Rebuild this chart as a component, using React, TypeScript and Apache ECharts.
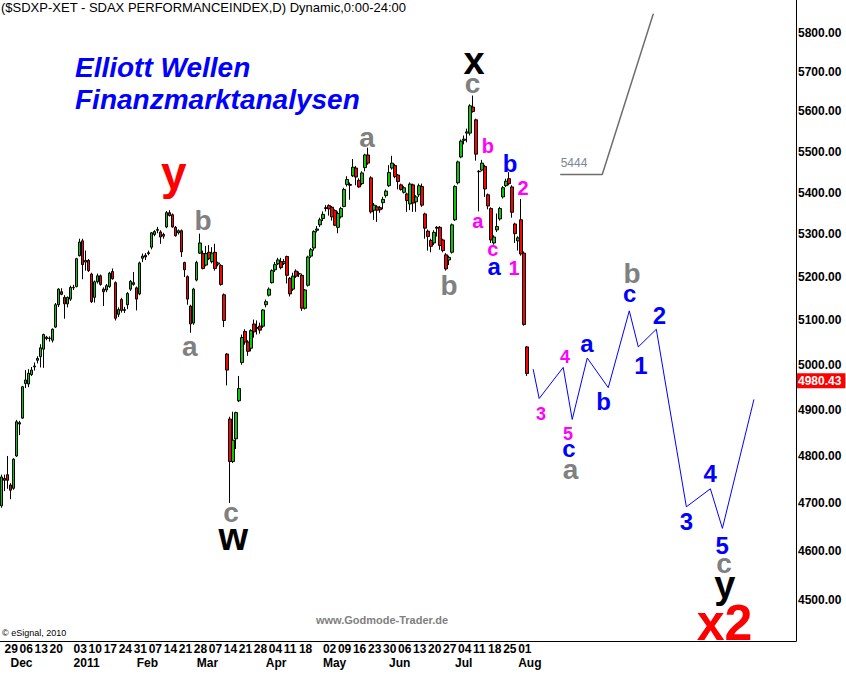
import { useEffect, useRef } from 'react';
import * as echarts from 'echarts';

const FONT = "'Liberation Sans', Arial, Helvetica, sans-serif";

const TITLE = '($SDXP-XET - SDAX PERFORMANCEINDEX,D) Dynamic,0:00-24:00';
const HEADLINE_1 = 'Elliott Wellen';
const HEADLINE_2 = 'Finanzmarktanalysen';
const WATERMARK = 'www.Godmode-Trader.de';
const COPYRIGHT = '\u00A9 eSignal, 2010';

// trading calendar
const START_DATE = '2010-11-26';
const HOLIDAYS = ['2010-12-24', '2010-12-31', '2011-04-22', '2011-04-25'];
const SLOT_COUNT = 265; // trading days incl. projected future
const MONTH_NAMES = ['Jan', 'Feb', 'Mar', 'Apr', 'May', 'Jun', 'Jul', 'Aug', 'Sep', 'Oct', 'Nov', 'Dec'];

// daily candles [open, high, low, close]
const OHLC = [
  [4694, 4760, 4690, 4755], [4752, 4760, 4725, 4748], [4760, 4800, 4730, 4748], [4738, 4742, 4708, 4727],
  [4731, 4795, 4728, 4793], [4800, 4878, 4798, 4874], [4872, 4876, 4845, 4869], [4882, 4953, 4880, 4951],
  [4958, 4988, 4948, 4966], [4957, 4990, 4950, 4981], [4978, 4995, 4975, 4988], [4995, 5005, 4987, 4997],
  [5010, 5019, 5003, 5014], [5018, 5046, 4994, 5038], [5035, 5070, 4993, 5068], [5062, 5065, 5055, 5059],
  [5059, 5064, 5052, 5060], [5055, 5082, 5050, 5080], [5085, 5140, 5083, 5136], [5136, 5174, 5131, 5172],
  [5166, 5174, 5158, 5160], [5153, 5158, 5104, 5138], [5138, 5155, 5130, 5153], [5149, 5180, 5145, 5176],
  [5176, 5182, 5170, 5175], [5178, 5245, 5176, 5243], [5250, 5290, 5248, 5282], [5285, 5290, 5195, 5229],
  [5235, 5262, 5215, 5239], [5239, 5242, 5212, 5215], [5207, 5210, 5140, 5143], [5153, 5192, 5141, 5189],
  [5189, 5208, 5185, 5203], [5203, 5206, 5180, 5183], [5172, 5176, 5133, 5166], [5170, 5184, 5165, 5180],
  [5178, 5212, 5175, 5209], [5213, 5220, 5194, 5196], [5187, 5190, 5100, 5105], [5114, 5130, 5108, 5125],
  [5148, 5152, 5118, 5123], [5123, 5131, 5117, 5125], [5136, 5165, 5126, 5162], [5172, 5193, 5168, 5190],
  [5187, 5212, 5180, 5183], [5175, 5178, 5123, 5149], [5161, 5236, 5158, 5233], [5244, 5255, 5235, 5249],
  [5251, 5256, 5240, 5247], [5255, 5262, 5251, 5257], [5270, 5306, 5265, 5304], [5300, 5310, 5296, 5307],
  [5310, 5318, 5303, 5312], [5306, 5310, 5278, 5294], [5296, 5304, 5290, 5300], [5318, 5356, 5315, 5352],
  [5352, 5358, 5343, 5345], [5347, 5350, 5316, 5318], [5317, 5320, 5295, 5297], [5304, 5312, 5300, 5309],
  [5309, 5312, 5247, 5259], [5234, 5236, 5200, 5217], [5201, 5204, 5136, 5149], [5133, 5136, 5072, 5092],
  [5094, 5175, 5090, 5172], [5193, 5238, 5190, 5234], [5256, 5302, 5254, 5280], [5255, 5262, 5218, 5220],
  [5228, 5273, 5225, 5255], [5258, 5275, 5240, 5243], [5236, 5270, 5232, 5256], [5258, 5278, 5215, 5220],
  [5230, 5236, 5225, 5233], [5227, 5230, 5180, 5183], [5159, 5162, 5085, 5100], [5024, 5026, 4954, 4988],
  [4880, 4885, 4700, 4788], [4788, 4896, 4785, 4834], [4837, 4896, 4815, 4894], [4920, 4975, 4917, 4947],
  [5005, 5068, 5000, 5061], [5075, 5080, 5045, 5051], [5051, 5055, 5020, 5030], [5037, 5080, 5030, 5077],
  [5092, 5102, 5061, 5074], [5082, 5100, 5068, 5084], [5087, 5095, 5070, 5078], [5087, 5126, 5083, 5124],
  [5136, 5148, 5130, 5143], [5158, 5176, 5155, 5172], [5187, 5218, 5185, 5215], [5217, 5235, 5212, 5229],
  [5231, 5245, 5228, 5240], [5236, 5245, 5218, 5222], [5232, 5242, 5228, 5236], [5248, 5250, 5185, 5204],
  [5197, 5200, 5155, 5161], [5172, 5210, 5168, 5202], [5214, 5218, 5198, 5202], [5207, 5213, 5200, 5208],
  [5204, 5208, 5122, 5128], [5128, 5172, 5125, 5170], [5181, 5250, 5178, 5247], [5249, 5268, 5245, 5264],
  [5268, 5310, 5262, 5307], [5310, 5320, 5305, 5313], [5323, 5340, 5318, 5335], [5338, 5355, 5332, 5348],
  [5362, 5370, 5355, 5364], [5369, 5372, 5345, 5361], [5365, 5368, 5333, 5342], [5357, 5360, 5320, 5322],
  [5317, 5355, 5303, 5350], [5342, 5366, 5338, 5362], [5367, 5412, 5365, 5408], [5420, 5440, 5415, 5432],
  [5420, 5425, 5383, 5418], [5441, 5482, 5438, 5462], [5460, 5465, 5418, 5438], [5430, 5435, 5412, 5414],
  [5422, 5452, 5418, 5448], [5461, 5495, 5452, 5492], [5492, 5510, 5468, 5472], [5436, 5440, 5350, 5354],
  [5358, 5375, 5335, 5370], [5366, 5370, 5330, 5358], [5364, 5368, 5352, 5359], [5376, 5390, 5360, 5384],
  [5393, 5408, 5388, 5404], [5417, 5467, 5414, 5449], [5460, 5490, 5456, 5472], [5466, 5470, 5435, 5439],
  [5443, 5445, 5408, 5427], [5419, 5422, 5405, 5408], [5401, 5416, 5398, 5412], [5397, 5400, 5354, 5381],
  [5373, 5425, 5358, 5421], [5419, 5422, 5354, 5375], [5378, 5394, 5354, 5390], [5395, 5422, 5390, 5417],
  [5415, 5422, 5366, 5370], [5349, 5352, 5290, 5315], [5308, 5312, 5262, 5295], [5286, 5290, 5258, 5272],
  [5280, 5310, 5275, 5305], [5315, 5320, 5295, 5317], [5317, 5320, 5264, 5274], [5287, 5290, 5258, 5262],
  [5252, 5256, 5215, 5219], [5240, 5250, 5228, 5246], [5258, 5326, 5255, 5323], [5335, 5418, 5332, 5415],
  [5424, 5478, 5420, 5475], [5487, 5530, 5484, 5526], [5528, 5540, 5518, 5531], [5546, 5557, 5523, 5549],
  [5546, 5618, 5540, 5614], [5611, 5640, 5597, 5600], [5579, 5582, 5478, 5494], [5452, 5455, 5355, 5451],
  [5455, 5480, 5452, 5472], [5464, 5468, 5390, 5409], [5395, 5398, 5360, 5368], [5362, 5365, 5280, 5287],
  [5280, 5298, 5276, 5294], [5311, 5350, 5306, 5319], [5337, 5366, 5333, 5362], [5390, 5416, 5386, 5412],
  [5417, 5434, 5414, 5428], [5434, 5450, 5418, 5422], [5414, 5418, 5340, 5353], [5325, 5328, 5280, 5302],
  [5285, 5296, 5262, 5292], [5335, 5385, 5250, 5254], [5256, 5260, 5088, 5091], [5040, 5042, 4975, 4980.43],
];

// price axis (logarithmic)
const PRICE_TICKS = [4500, 4600, 4700, 4800, 4900, 5000, 5100, 5200, 5300, 5400, 5500, 5600, 5700, 5800];
const PRICE_MIN = 4418.6;
const PRICE_MAX = 5886.3;
const LAST_PRICE = 4980.43;

// projected paths: [trading-day slot, price]
const BLUE_PATH = [
  [177, 4990], [179, 4925], [187, 4994], [190, 4879], [195, 5015], [202, 4949], [209, 5122],
  [212, 5040], [218, 5080], [228, 4692], [236, 4730], [240, 4647], [250.5, 4923],
];
const GRAY_PATH = [[186, 5444], [200, 5444], [217, 5850]];

// wave labels: [text, trading-day slot, price, kind]
const WAVES = [
  ['y', 57.4, 5448, 'redL'], ['b', 67.1, 5334, 'gray'], ['a', 62.7, 5041, 'gray'],
  ['c', 76.4, 4680, 'gray'], ['w', 77.2, 4629, 'black'], ['a', 121.7, 5536, 'gray'],
  ['x', 157.3, 5729, 'black'], ['c', 156.8, 5671, 'gray'], ['b', 161.9, 5513, 'magenta'],
  ['b', 169.3, 5471, 'blue'], ['2', 173.6, 5411, 'magenta'], ['a', 158.6, 5331, 'magenta'],
  ['c', 163.6, 5265, 'magenta'], ['a', 164.0, 5224, 'blue'], ['1', 170.6, 5221, 'magenta'],
  ['b', 149.0, 5181, 'gray'], ['b', 209.9, 5209, 'gray'], ['c', 209.1, 5162, 'blue'],
  ['2', 219.0, 5112, 'blue'], ['a', 194.9, 5048, 'blue'], ['4', 187.6, 5017, 'magentaS'],
  ['1', 212.9, 4998, 'blue'], ['b', 200.4, 4918, 'blue'], ['3', 179.6, 4891, 'magentaS'],
  ['5', 188.6, 4847, 'magentaS'], ['c', 188.9, 4816, 'blue'], ['a', 189.4, 4771, 'gray'],
  ['3', 228.0, 4661, 'blue'], ['4', 235.9, 4762, 'blue'], ['5', 239.9, 4611, 'blue'],
  ['c', 240.5, 4575, 'gray'], ['y', 240.8, 4531, 'black'], ['x2', 240.7, 4455, 'redXL'],
  ['5444', 190.6, 5473, 'note'],
];

const KIND_STYLE = {
  redL: { color: '#ff0000', size: 46, weight: 'bold' },
  redXL: { color: '#ff0000', size: 50, weight: 'bold' },
  black: { color: '#000000', size: 38, weight: 'bold' },
  gray: { color: '#808080', size: 28, weight: 'bold' },
  blue: { color: '#0000ff', size: 24, weight: 'bold' },
  magenta: { color: '#ff00ff', size: 20, weight: 'bold' },
  magentaS: { color: '#ff00ff', size: 18, weight: 'bold' },
  note: { color: '#7a8796', size: 12, weight: 'normal' },
};

function tradingDays(start: string, count: number, holidays: string[]): string[] {
  const out: string[] = [];
  const d = new Date(start + 'T12:00:00Z');
  while (out.length < count) {
    const dow = d.getUTCDay();
    const s = d.toISOString().slice(0, 10);
    if (dow !== 0 && dow !== 6 && holidays.indexOf(s) < 0) out.push(s);
    d.setUTCDate(d.getUTCDate() + 1);
  }
  return out;
}

function buildOption() {
  const L = (p: number) => Math.log(p);
  const dates = tradingDays(START_DATE, SLOT_COUNT, HOLIDAYS);
  const n = OHLC.length;

  const dayIdx = new Set<number>();
  let last = -100;
  for (let i = 1; i < n; i++) {
    const prev = new Date(dates[i - 1] + 'T12:00:00Z');
    const cur = new Date(dates[i] + 'T12:00:00Z');
    const newWeek = cur.getUTCDay() < prev.getUTCDay() || cur.getTime() - prev.getTime() > 6 * 864e5;
    if (newWeek && i - last >= 5) {
      dayIdx.add(i);
      last = i;
    }
  }
  const monthIdx = new Set<number>();
  for (let i = 1; i < n; i++) {
    if (dates[i].slice(5, 7) !== dates[i - 1].slice(5, 7)) monthIdx.add(i);
  }

  const axisFont = { color: '#000', fontWeight: 'bold', fontSize: 12, fontFamily: FONT };

  return {
    animation: false,
    backgroundColor: '#ffffff',
    textStyle: { fontFamily: FONT },
    grid: { left: 0, right: 50, top: 0, bottom: 33, containLabel: false, outerBoundsMode: 'none' },
    xAxis: [
      {
        type: 'category',
        data: dates,
        boundaryGap: true,
        axisLine: { show: true, onZero: false, lineStyle: { color: '#000', width: 1 } },
        axisTick: { show: false },
        splitLine: { show: false },
        axisLabel: {
          ...axisFont,
          interval: (i: number) => dayIdx.has(i),
          formatter: (v: string) => v.slice(8, 10),
          align: 'left',
          margin: 2,
          hideOverlap: false,
        },
      },
      {
        type: 'category',
        data: dates,
        position: 'bottom',
        boundaryGap: true,
        axisLine: { show: false, onZero: false },
        axisTick: { show: false },
        splitLine: { show: false },
        axisLabel: {
          ...axisFont,
          interval: (i: number) => monthIdx.has(i),
          formatter: (v: string) => {
            const m = +v.slice(5, 7);
            return m === 1 ? v.slice(0, 4) : MONTH_NAMES[m - 1];
          },
          align: 'left',
          margin: 16,
          hideOverlap: false,
        },
      },
      { type: 'value', min: -0.5, max: SLOT_COUNT - 0.5, show: false },
    ],
    yAxis: {
      type: 'value',
      position: 'right',
      min: L(PRICE_MIN),
      max: L(PRICE_MAX),
      axisLine: { show: true, onZero: false, lineStyle: { color: '#000', width: 1 } },
      axisTick: { show: false },
      splitLine: { show: false },
      axisLabel: {
        ...axisFont,
        customValues: PRICE_TICKS.map(L),
        formatter: (v: number) => Math.round(Math.exp(v)).toFixed(2),
        align: 'left',
        margin: 2,
      },
    },
    graphic: [
      { type: 'text', x: 1, y: 7, style: { text: TITLE, font: `13px ${FONT}`, fill: '#000', verticalAlign: 'middle' } },
      { type: 'text', x: 75, y: 67, style: { text: HEADLINE_1, font: `italic bold 28px ${FONT}`, fill: '#0000ff', verticalAlign: 'middle' } },
      { type: 'text', x: 75, y: 99, style: { text: HEADLINE_2, font: `italic bold 28px ${FONT}`, fill: '#0000ff', verticalAlign: 'middle' } },
      { type: 'text', x: 382, y: 620, style: { text: WATERMARK, font: `bold 11px ${FONT}`, fill: '#808080', align: 'center', verticalAlign: 'middle' } },
      { type: 'text', x: 2, y: 633, style: { text: COPYRIGHT, font: `9px ${FONT}`, fill: '#000', verticalAlign: 'middle' } },
    ],
    series: [
      {
        type: 'candlestick',
        xAxisIndex: 0,
        yAxisIndex: 0,
        barWidth: 3,
        data: OHLC.map(([o, h, l, c]) => [L(o), L(c), L(l), L(h)]),
        itemStyle: {
          color: '#00cc00',
          color0: '#ff0000',
          borderColor: '#000',
          borderColor0: '#000',
          borderColorDoji: '#000',
          borderWidth: 1,
          opacity: 1,
        },
        markLine: {
          silent: true,
          symbol: ['none', 'none'],
          lineStyle: { color: 'rgba(0,0,0,0)', width: 0, opacity: 1 },
          label: {
            show: true,
            position: 'end',
            distance: 1,
            formatter: LAST_PRICE.toFixed(2),
            backgroundColor: '#ff0000',
            color: '#ffffff',
            fontWeight: 'bold',
            fontSize: 12,
            fontFamily: FONT,
            padding: [2, 4, 1, 1],
            opacity: 1,
          },
          emphasis: { disabled: true },
          data: [{ yAxis: L(LAST_PRICE) }],
        },
      },
      {
        type: 'line',
        xAxisIndex: 2,
        yAxisIndex: 0,
        symbol: 'none',
        data: BLUE_PATH.map(([x, p]) => [x, L(p)]),
        lineStyle: { color: '#0000ff', width: 1, opacity: 1 },
        z: 3,
      },
      {
        type: 'line',
        xAxisIndex: 2,
        yAxisIndex: 0,
        symbol: 'none',
        data: GRAY_PATH.map(([x, p]) => [x, L(p)]),
        lineStyle: { color: '#6e6e6e', width: 1.5, opacity: 1 },
        z: 3,
      },
      {
        type: 'scatter',
        xAxisIndex: 2,
        yAxisIndex: 0,
        symbolSize: 1,
        itemStyle: { color: 'rgba(0,0,0,0)', opacity: 1 },
        z: 5,
        data: WAVES.map(([t, x, p, kind]) => {
          const s = KIND_STYLE[kind as string];
          return {
            value: [x, L(p as number)],
            label: {
              show: true,
              position: 'inside',
              formatter: t as string,
              color: s.color,
              fontSize: s.size,
              fontWeight: s.weight,
              fontFamily: FONT,
              align: 'center',
              verticalAlign: 'middle',
              opacity: 1,
              textBorderWidth: 0,
              textBorderColor: 'rgba(0,0,0,0)',
            },
          };
        }),
      },
    ],
  };
}

export default function App() {
  const ref = useRef<HTMLDivElement>(null);
  useEffect(() => {
    if (!ref.current) return;
    const chart = echarts.init(ref.current, null, { renderer: 'svg' });
    chart.setOption(buildOption() as any);
    return () => chart.dispose();
  }, []);
  return (
    <div
      ref={ref}
      style={{ position: 'absolute', left: 0, top: 0, width: 846, height: 674, background: '#ffffff' }}
    />
  );
}
